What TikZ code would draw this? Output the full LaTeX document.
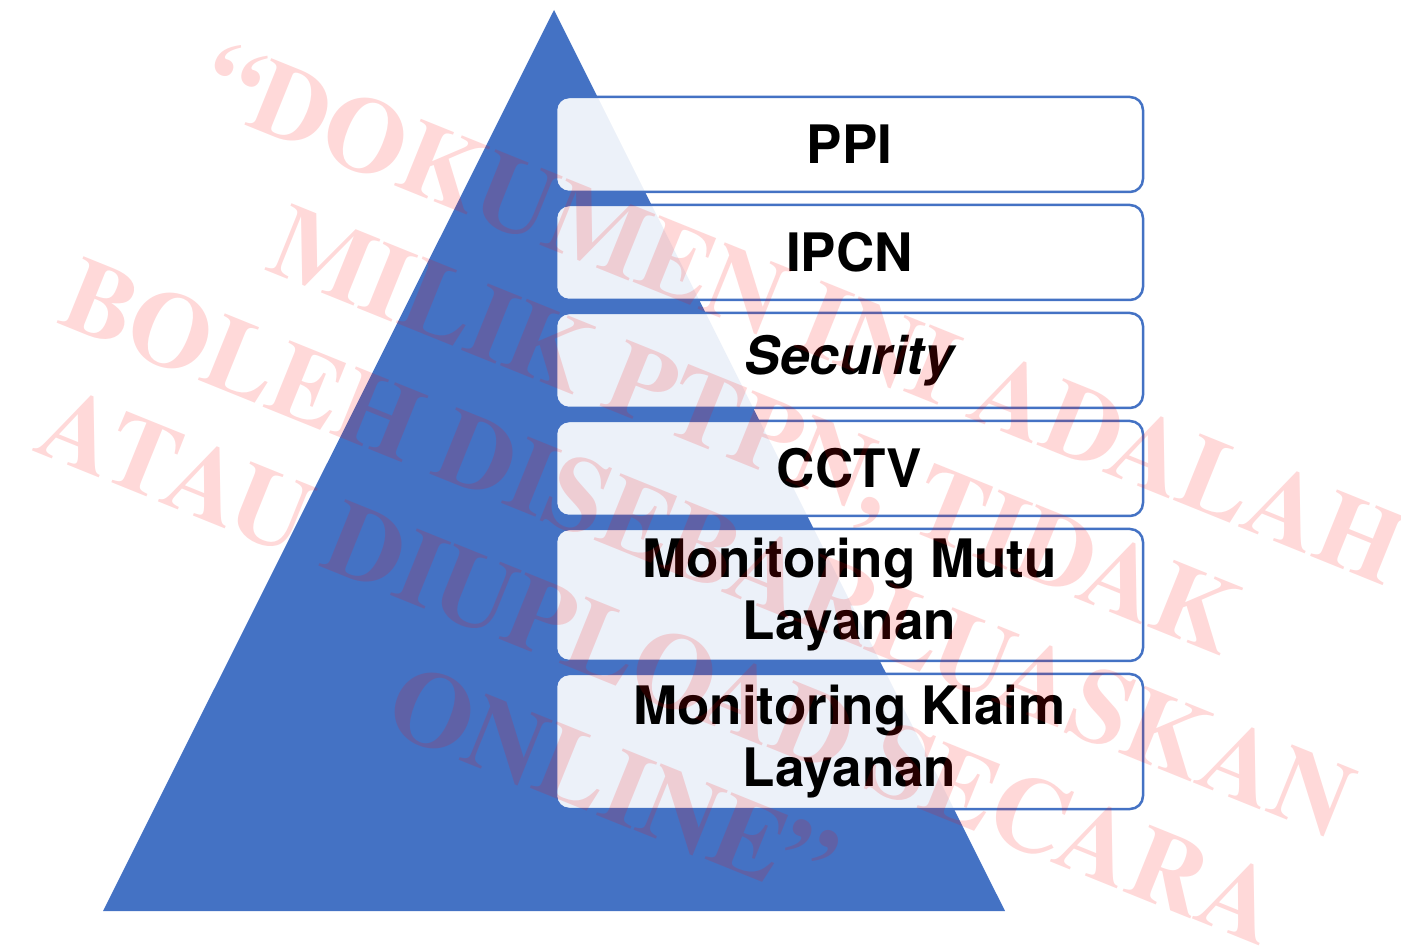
\documentclass[tikz,border=0pt]{standalone}
\usepackage{fontspec}
\newfontfamily\lvlfont{texgyreheros}[Extension=.otf,UprightFont=*-bold,ItalicFont=*-bolditalic]
\newfontfamily\wmfont{texgyretermes}[Extension=.otf,UprightFont=*-bold]
\usetikzlibrary{positioning}
\definecolor{pyrblue}{HTML}{4472C4}
\def\LvlWidth{587pt}
\def\LvlGap{13pt}

\begin{document}
\begin{tikzpicture}[x=1pt,y=1pt,
	lvl/.style={draw=pyrblue,line width=2.5pt,rounded corners=13pt,fill=white,fill opacity=0.9,text opacity=1,
		minimum width=\LvlWidth,minimum height=95pt,outer sep=0pt,inner sep=0pt,align=center,
		font=\lvlfont\fontsize{53}{62}\selectfont}]
	\useasboundingbox (0,0) rectangle (1401,946);
	\coordinate (apex) at (554,936);
	\coordinate (bl) at (103,35);
	\coordinate (br) at (1005,35);
	\fill[pyrblue] (apex) -- (bl) -- (br) -- cycle;
	\node[lvl] (ppi) at (849.5,801.5) {PPI};
	\node[lvl,below=\LvlGap of ppi] (ipcn) {IPCN};
	\node[lvl,below=\LvlGap of ipcn] (sec) {\itshape Security};
	\node[lvl,below=\LvlGap of sec] (cctv) {CCTV};
	\node[lvl,below=\LvlGap of cctv,minimum height=132pt] (mutu) {Monitoring Mutu\\Layanan};
	\node[lvl,below=\LvlGap of mutu,minimum height=135pt] (klaim) {Monitoring Klaim\\Layanan};
	% watermark
	\node[red,opacity=0.15,rotate=-22,align=center,font=\wmfont\fontsize{106}{127}\selectfont] (wm) at (708,398)
		{“DOKUMEN INI ADALAH\\MILIK PTPN, TIDAK\\BOLEH DISEBARLUASKAN\\ATAU DIUPLOAD SECARA\\ONLINE”};
\end{tikzpicture}
\end{document}
